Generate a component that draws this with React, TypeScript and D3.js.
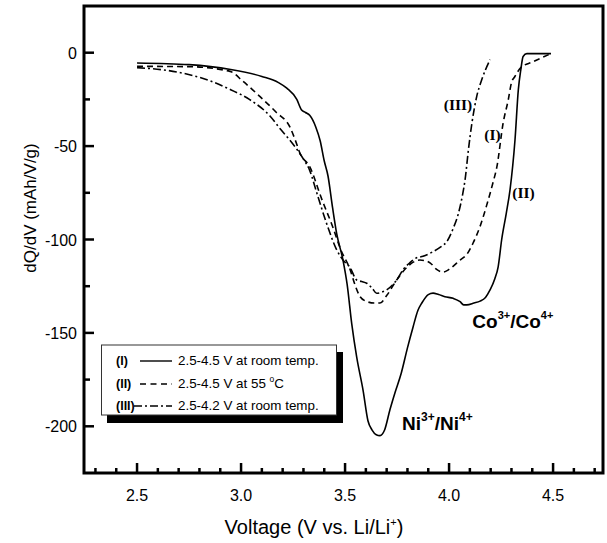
import React from "react";
import * as d3 from "d3";

// curve (I): 2.5-4.5 V at room temp. (solid)
const voltsI = [2.5, 2.75, 2.95, 3.1, 3.18, 3.22, 3.268, 3.29, 3.31, 3.33, 3.36, 3.38, 3.4, 3.418, 3.44, 3.46, 3.49, 3.51, 3.532, 3.556, 3.587, 3.61, 3.63, 3.65, 3.668, 3.69, 3.716, 3.74, 3.77, 3.8, 3.827, 3.85, 3.869, 3.9, 3.923, 3.95, 3.98, 4.02, 4.053, 4.07, 4.085, 4.12, 4.149, 4.175, 4.197, 4.22, 4.236, 4.253, 4.275, 4.293, 4.317, 4.333, 4.345, 4.356, 4.374, 4.49];
const dqdvI = [-5.5, -6.4, -9, -12.7, -16, -19, -25, -30.5, -32, -33.5, -40, -47, -58, -66, -83, -97, -111, -124, -145, -163, -181, -197, -202, -204.5, -205, -202, -191, -182, -171.6, -158, -146.8, -138, -134, -129.5, -128.7, -129.5, -130.6, -131.5, -133.3, -135, -135, -134, -133, -131, -127, -121, -114.6, -100, -86, -73.4, -46.6, -19.8, -9, -2, -0.5, -0.5];

// curve (II): 2.5-4.5 V at 55 °C (dashed)
const voltsII = [2.5, 2.755, 2.947, 3.01, 3.09, 3.17, 3.236, 3.26, 3.284, 3.33, 3.39, 3.44, 3.48, 3.524, 3.55, 3.572, 3.6, 3.64, 3.668, 3.7, 3.748, 3.796, 3.83, 3.86, 3.89, 3.91, 3.94, 3.97, 4.0, 4.053, 4.085, 4.115, 4.149, 4.18, 4.21, 4.23, 4.26, 4.285, 4.3, 4.315, 4.345, 4.4, 4.49];
const dqdvII = [-7.3, -7.5, -10, -15.4, -23.4, -32, -40, -46.6, -54, -61, -79, -93, -105.6, -116, -125, -130.6, -133, -134, -134, -130, -121.7, -115, -112, -111, -111.5, -112.6, -116, -117.5, -116, -111, -108, -102, -93, -82, -70, -61, -37.6, -25, -16, -13, -8, -5, -0.5];

// curve (III): 2.5-4.2 V at room temp. (dash-dot)
const voltsIII = [2.5, 2.7, 2.85, 2.95, 3.04, 3.14, 3.19, 3.236, 3.27, 3.3, 3.33, 3.364, 3.41, 3.46, 3.49, 3.524, 3.556, 3.58, 3.604, 3.63, 3.652, 3.68, 3.7, 3.748, 3.78, 3.81, 3.84, 3.875, 3.923, 3.96, 3.99, 4.02, 4.045, 4.065, 4.077, 4.093, 4.11, 4.133, 4.157, 4.197];
const dqdvIII = [-8, -10.5, -15, -19.8, -25, -34, -41, -47, -52, -57, -63, -75, -91, -105.6, -111, -115, -121.7, -122.5, -123.4, -126, -128.8, -128, -127, -121.7, -116, -112.6, -110, -109, -106.5, -104, -101, -94, -86, -76, -68, -52, -37.6, -23.4, -14.5, -3.75];

const xTicks = [2.5, 3.0, 3.5, 4.0, 4.5];
const xMinor = [2.3, 2.4, 2.6, 2.7, 2.8, 2.9, 3.1, 3.2, 3.3, 3.4, 3.6, 3.7, 3.8, 3.9, 4.1, 4.2, 4.3, 4.4, 4.6, 4.7];
const yTicks = [0, -50, -100, -150, -200];
const yMinor = [-25, -75, -125, -175];

const W = 607;
const H = 543;
const L = 84, R = 603, T = 6, B = 473;

const sans = "Arial, 'Liberation Sans', Helvetica, sans-serif";
const serif = "'Times New Roman', 'Liberation Serif', serif";

export default function App() {
  const x = d3.scaleLinear().domain([2.245, 4.74]).range([L, R]);
  const y = d3.scaleLinear().domain([-225, 25]).range([B, T]);

  const line = d3
    .line<[number, number]>()
    .x((d) => x(d[0]))
    .y((d) => y(d[1]))
    .curve(d3.curveMonotoneX);

  const series = [
    { v: voltsI, q: dqdvI, dash: undefined },
    { v: voltsII, q: dqdvII, dash: "6,4" },
    { v: voltsIII, q: dqdvIII, dash: "8,3,2,3" },
  ];

  return (
    <svg
      width={W}
      height={H}
      style={{ position: "absolute", left: 0, top: 0, background: "#fff" }}
    >
      {/* curves */}
      {series.map((s, i) => (
        <path
          key={i}
          d={line(s.v.map((v, j) => [v, s.q[j]] as [number, number])) ?? ""}
          fill="none"
          stroke="#000"
          strokeWidth={1.6}
          strokeDasharray={s.dash}
        />
      ))}

      {/* frame */}
      <rect x={L} y={T} width={R - L} height={B - T} fill="none" stroke="#000" strokeWidth={3} />

      {/* x ticks */}
      {xTicks.map((t) => (
        <line key={"xt" + t} x1={x(t)} x2={x(t)} y1={B} y2={B - 10} stroke="#000" strokeWidth={2.5} />
      ))}
      {xMinor.map((t) => (
        <line key={"xm" + t} x1={x(t)} x2={x(t)} y1={B} y2={B - 5} stroke="#000" strokeWidth={2.5} />
      ))}
      {xTicks.map((t) => (
        <text key={"xl" + t} x={x(t)} y={501} textAnchor="middle" fontFamily={sans} fontSize={16}>
          {t.toFixed(1)}
        </text>
      ))}

      {/* y ticks */}
      {yTicks.map((t) => (
        <line key={"yt" + t} x1={L} x2={L + 10} y1={y(t)} y2={y(t)} stroke="#000" strokeWidth={2.5} />
      ))}
      {yMinor.map((t) => (
        <line key={"ym" + t} x1={L} x2={L + 6} y1={y(t)} y2={y(t)} stroke="#000" strokeWidth={2.5} />
      ))}
      {yTicks.map((t) => (
        <text key={"yl" + t} x={77} y={y(t) + 6} textAnchor="end" fontFamily={sans} fontSize={16}>
          {t}
        </text>
      ))}

      {/* axis titles */}
      <text x={314} y={534} textAnchor="middle" fontFamily={sans} fontSize={20}>
        Voltage (V vs. Li/Li<tspan dy={-8} fontSize={11}>+</tspan><tspan dy={8}>)</tspan>
      </text>
      <text
        transform="translate(36,208) rotate(-90)"
        textAnchor="middle"
        fontFamily={sans}
        fontSize={17}
      >
        dQ/dV (mAh/V/g)
      </text>

      {/* curve labels */}
      <g fontFamily={serif} fontWeight="bold" fontSize={15.5}>
        <text x={x(4.043)} y={y(-30.5)} textAnchor="middle">(III)</text>
        <text x={x(4.209)} y={y(-47)} textAnchor="middle">(I)</text>
        <text x={x(4.358)} y={y(-78)} textAnchor="middle">(II)</text>
      </g>
      <g fontFamily={sans} fontWeight="bold" fontSize={19}>
        <text x={x(4.112)} y={y(-147.4)}>
          Co<tspan dy={-9} fontSize={11}>3+</tspan>
          <tspan dy={9}>/Co</tspan>
          <tspan dy={-9} fontSize={11}>4+</tspan>
        </text>
        <text x={x(3.774)} y={y(-202)}>
          Ni<tspan dy={-9} fontSize={12}>3+</tspan>
          <tspan dy={9}>/Ni</tspan>
          <tspan dy={-9} fontSize={12}>4+</tspan>
        </text>
      </g>

      {/* legend */}
      <rect x={107} y={352} width={236} height={71} fill="#000" />
      <rect x={101.5} y={345} width={235} height={70} fill="#fff" stroke="#333" strokeWidth={1} />
      <g fontFamily={sans} fontSize={13.4}>
        <text x={116} y={365} fontWeight="bold" fontSize={12.5}>(I)</text>
        <text x={116} y={388} fontWeight="bold" fontSize={12.5}>(II)</text>
        <text x={116} y={410} fontWeight="bold" fontSize={12.5}>(III)</text>
        <line x1={140} x2={172} y1={361} y2={361} stroke="#000" strokeWidth={1.4} />
        <line x1={140} x2={172} y1={384} y2={384} stroke="#000" strokeWidth={1.4} strokeDasharray="6,4.5" />
        <line x1={134} x2={172} y1={406} y2={406} stroke="#000" strokeWidth={1.4} strokeDasharray="8,3,2,3" />
        <text x={178} y={365}>2.5-4.5 V at room temp.</text>
        <text x={178} y={388}>
          2.5-4.5 V at 55 <tspan dy={-6} fontSize={8.5}>o</tspan><tspan dy={6}>C</tspan>
        </text>
        <text x={178} y={410}>2.5-4.2 V at room temp.</text>
      </g>
    </svg>
  );
}
